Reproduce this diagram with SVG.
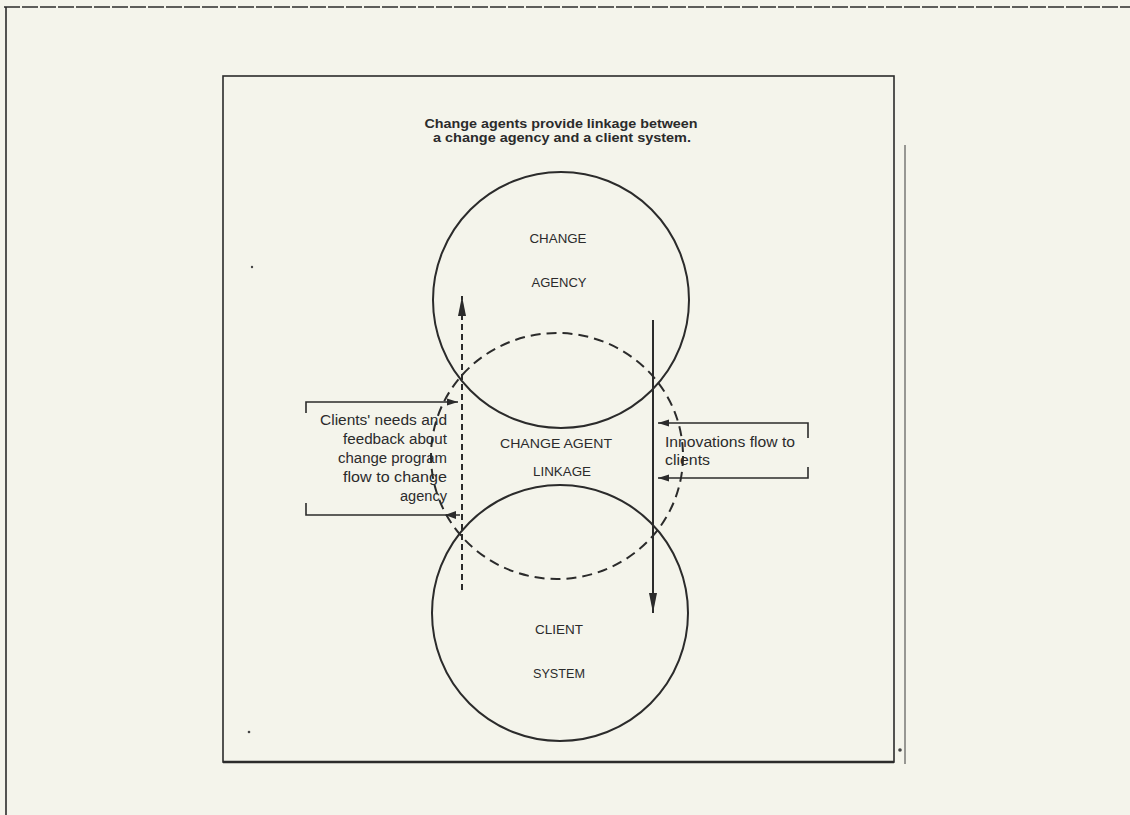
<svg xmlns="http://www.w3.org/2000/svg" width="1130" height="815" viewBox="0 0 1130 815">
<style>
.ln{stroke:#2b2b2b;fill:none;stroke-width:1.6}
.thin{stroke:#3a3a3a;fill:none;stroke-width:1}
.circ{stroke:#2b2b2b;fill:none;stroke-width:2}
.dsh{stroke-dasharray:10 6}
.vdsh{stroke-dasharray:6 4}
.t{font-family:"Liberation Sans",Arial,sans-serif;fill:#2b2b2b}
.lbl{font-size:13px;text-anchor:middle}
.note{font-size:14px}
.title{font-size:12.5px;font-weight:bold;text-anchor:middle}
</style>
<defs>
<marker id="ahv" markerUnits="userSpaceOnUse" markerWidth="22" markerHeight="10" refX="20" refY="5" orient="auto"><path d="M0,1 L20,5 L0,9 Z" fill="#2b2b2b"/></marker>
<marker id="ahh" markerUnits="userSpaceOnUse" markerWidth="12" markerHeight="8" refX="11" refY="4" orient="auto"><path d="M0,0.5 L11,4 L0,7.5 Z" fill="#2b2b2b"/></marker>
</defs>
<rect width="1130" height="815" fill="#f4f4eb"/>
<g id="frame">
<line class="ln" x1="4" y1="7" x2="1130" y2="7" style="stroke-dasharray:16 2"/>
<line class="ln" x1="6" y1="7" x2="6" y2="815"/>
<rect class="ln" x="223" y="76" width="671" height="686"/>
<line x1="223" y1="762" x2="894" y2="762" stroke="#2b2b2b" stroke-width="2.4"/>
<line class="thin" x1="905" y1="145" x2="905" y2="764"/>
<circle cx="249" cy="732" r="1.3" fill="#444"/>
<circle cx="252" cy="267" r="1.2" fill="#444"/>
<circle cx="900" cy="750" r="1.8" fill="#444"/>
</g>
<g id="title">
<text class="t title" x="561" y="128" textLength="273" lengthAdjust="spacingAndGlyphs">Change agents provide linkage between</text>
<text class="t title" x="562" y="142" textLength="258" lengthAdjust="spacingAndGlyphs">a change agency and a client system.</text>
</g>
<g id="change-agency">
<circle class="circ" cx="561" cy="300" r="128"/>
<text class="t lbl" x="558" y="243" textLength="57" lengthAdjust="spacingAndGlyphs">CHANGE</text>
<text class="t lbl" x="559" y="287" textLength="55" lengthAdjust="spacingAndGlyphs">AGENCY</text>
</g>
<g id="client-system">
<circle class="circ" cx="560" cy="613" r="128"/>
<text class="t lbl" x="559" y="634" textLength="48" lengthAdjust="spacingAndGlyphs">CLIENT</text>
<text class="t lbl" x="559" y="678" textLength="52" lengthAdjust="spacingAndGlyphs">SYSTEM</text>
</g>
<g id="change-agent-linkage">
<ellipse class="circ dsh" cx="557" cy="456" rx="126" ry="123"/>
<text class="t lbl" x="556" y="448" textLength="112" lengthAdjust="spacingAndGlyphs">CHANGE  AGENT</text>
<text class="t lbl" x="562" y="476" textLength="58" lengthAdjust="spacingAndGlyphs">LINKAGE</text>
</g>
<g id="clients-needs-note">
<text class="t note" text-anchor="end" x="447" y="425" textLength="127" lengthAdjust="spacingAndGlyphs">Clients' needs and</text>
<text class="t note" text-anchor="end" x="447" y="444" textLength="104" lengthAdjust="spacingAndGlyphs">feedback about</text>
<text class="t note" text-anchor="end" x="447" y="463" textLength="109" lengthAdjust="spacingAndGlyphs">change program</text>
<text class="t note" text-anchor="end" x="447" y="482" textLength="104" lengthAdjust="spacingAndGlyphs">flow to change</text>
<text class="t note" text-anchor="end" x="447" y="501" textLength="47" lengthAdjust="spacingAndGlyphs">agency</text>
</g>
<g id="innovations-note">
<text class="t note" x="665" y="447" textLength="130" lengthAdjust="spacingAndGlyphs">Innovations flow to</text>
<text class="t note" x="665" y="465" textLength="45" lengthAdjust="spacingAndGlyphs">clients</text>
</g>
<g id="connectors">
<line class="ln vdsh" x1="462" y1="590" x2="462" y2="296" marker-end="url(#ahv)" style="stroke-width:2"/>
<line class="ln" x1="653" y1="320" x2="653" y2="613" marker-end="url(#ahv)" style="stroke-width:2"/>
<path class="ln" d="M306,413 V402 H458" marker-end="url(#ahh)"/>
<path class="ln" d="M306,503 V515 H460"/>
<path d="M445,515 L456,511 L456,519 Z" fill="#2b2b2b"/>
<path class="ln" d="M808,438 V423 H658" marker-end="url(#ahh)"/>
<path class="ln" d="M808,467 V478 H658" marker-end="url(#ahh)"/>
</g>
</svg>
